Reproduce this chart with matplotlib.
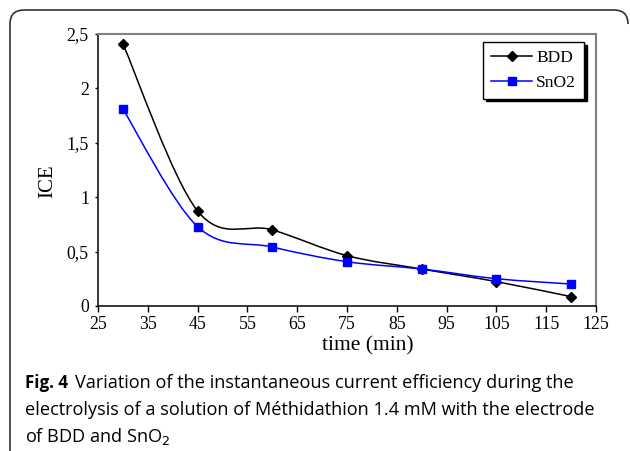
import matplotlib
matplotlib.use("Agg")
import matplotlib.pyplot as plt
import numpy as np
from matplotlib.path import Path
from matplotlib.patches import PathPatch
from matplotlib.lines import Line2D

time = [30, 45, 60, 75, 90, 105, 120]
bdd = [2.41, 0.873, 0.70, 0.463, 0.34, 0.224, 0.086]
sno2 = [1.81, 0.729, 0.542, 0.407, 0.34, 0.251, 0.202]
xticks = [25, 35, 45, 55, 65, 75, 85, 95, 105, 115, 125]
yticks = [0, 0.5, 1, 1.5, 2, 2.5]
ytick_labels = ["0", "0,5", "1", "1,5", "2", "2,5"]

W, H = 630, 451
fig = plt.figure(figsize=(W / 100, H / 100), dpi=100)

serif = "Liberation Serif"

# outer rounded frame (open at bottom)
r = 14
verts = [(10 / W, 0), (10 / W, 1 - (10 + r) / H), (10 / W, 1 - 10 / H), ((10 + r) / W, 1 - 10 / H),
         ((628 - r) / W, 1 - 10 / H), (628 / W, 1 - 10 / H), (628 / W, 1 - (10 + r) / H)]
codes = [Path.MOVETO, Path.LINETO, Path.CURVE3, Path.CURVE3, Path.LINETO, Path.CURVE3, Path.CURVE3]
fig.add_artist(PathPatch(Path(verts, codes), transform=fig.transFigure, fill=False,
                         edgecolor="#333333", lw=1.2))

ax = fig.add_axes([98 / W, 1 - 306 / H, (596 - 98) / W, (306 - 34) / H])


def smooth_path(xs, ys):
    pts = np.column_stack([xs, ys]).astype(float)
    n = len(pts)
    v = [tuple(pts[0])]
    c = [Path.MOVETO]
    for i in range(n - 1):
        p0 = pts[i - 1] if i > 0 else pts[i]
        p1 = pts[i]
        p2 = pts[i + 1]
        p3 = pts[i + 2] if i + 2 < n else pts[i + 1]
        c1 = p1 + (p2 - p0) / 6
        c2 = p2 - (p3 - p1) / 6
        v += [tuple(c1), tuple(c2), tuple(p2)]
        c += [Path.CURVE4] * 3
    return Path(v, c)


ax.add_patch(PathPatch(smooth_path(time, bdd), fill=False, edgecolor="black", lw=1.1, zorder=2))
ax.add_patch(PathPatch(smooth_path(time, sno2), fill=False, edgecolor="#0000ff", lw=1.1, zorder=2))
ax.plot(time, bdd, ls="none", marker="D", ms=5, color="black", zorder=3)
ax.plot(time, sno2, ls="none", marker="s", ms=5.3, color="#0000ff", zorder=3)

ax.set_xlim(25, 125)
ax.set_ylim(0, 2.5)
ax.set_xticks(xticks)
ax.set_xticklabels([str(t) for t in xticks], fontfamily=serif, fontsize=12.8)
ax.set_yticks(yticks)
ax.set_yticklabels(ytick_labels, fontfamily=serif, fontsize=12.8)
ax.tick_params(axis="x", direction="out", length=4.2, width=1, pad=3, colors="black")
ax.tick_params(axis="y", direction="out", length=2.5, width=1, pad=4, colors="black")
for s in ["left", "bottom"]:
    ax.spines[s].set_color("black")
    ax.spines[s].set_linewidth(1.1)
for s in ["top", "right"]:
    ax.spines[s].set_color("#808080")
    ax.spines[s].set_linewidth(1.5)

ax.set_xlabel("time (min)", fontfamily=serif, fontsize=15.5)
ax.xaxis.set_label_coords((368 - 98) / (596 - 98), -(336 - 306) / 272, transform=ax.transAxes)
ax.set_ylabel("ICE", fontfamily=serif, fontsize=15)
ax.yaxis.set_label_coords(-(98 - 57) / 498, (306 - 181.5) / 272, transform=ax.transAxes)

handles = [Line2D([], [], color="black", marker="D", ms=5, lw=1.1),
           Line2D([], [], color="#0000ff", marker="s", ms=5.3, lw=1.1)]
leg = ax.legend(handles, ["BDD", "SnO2"], loc="upper right", bbox_to_anchor=(584 / W, 1 - 42 / H),
                bbox_transform=fig.transFigure, prop={"family": serif, "size": 12.5},
                fancybox=False, edgecolor="black", framealpha=1, handlelength=2.35,
                handletextpad=0.25, borderaxespad=0, borderpad=0.45, labelspacing=0.5,
                shadow={"facecolor": "black", "alpha": 1, "edgecolor": "black"})
leg.get_frame().set_linewidth(1.0)

cap_font = "Open Sans"
cs = 13.1
fig.text(25 / W, 1 - 388 / H, "Fig. 4", fontfamily=cap_font, fontweight="bold", fontsize=12.2, va="baseline")
fig.text(75 / W, 1 - 388 / H, "Variation of the instantaneous current efficiency during the",
         fontfamily=cap_font, fontsize=cs, va="baseline")
fig.text(25 / W, 1 - 415 / H, "electrolysis of a solution of Méthidathion 1.4 mM with the electrode",
         fontfamily=cap_font, fontsize=cs, va="baseline")
fig.text(25 / W, 1 - 442 / H, r"of BDD and SnO$_2$", fontfamily=cap_font, fontsize=cs, va="baseline")

fig.savefig("out.png", dpi=100)
